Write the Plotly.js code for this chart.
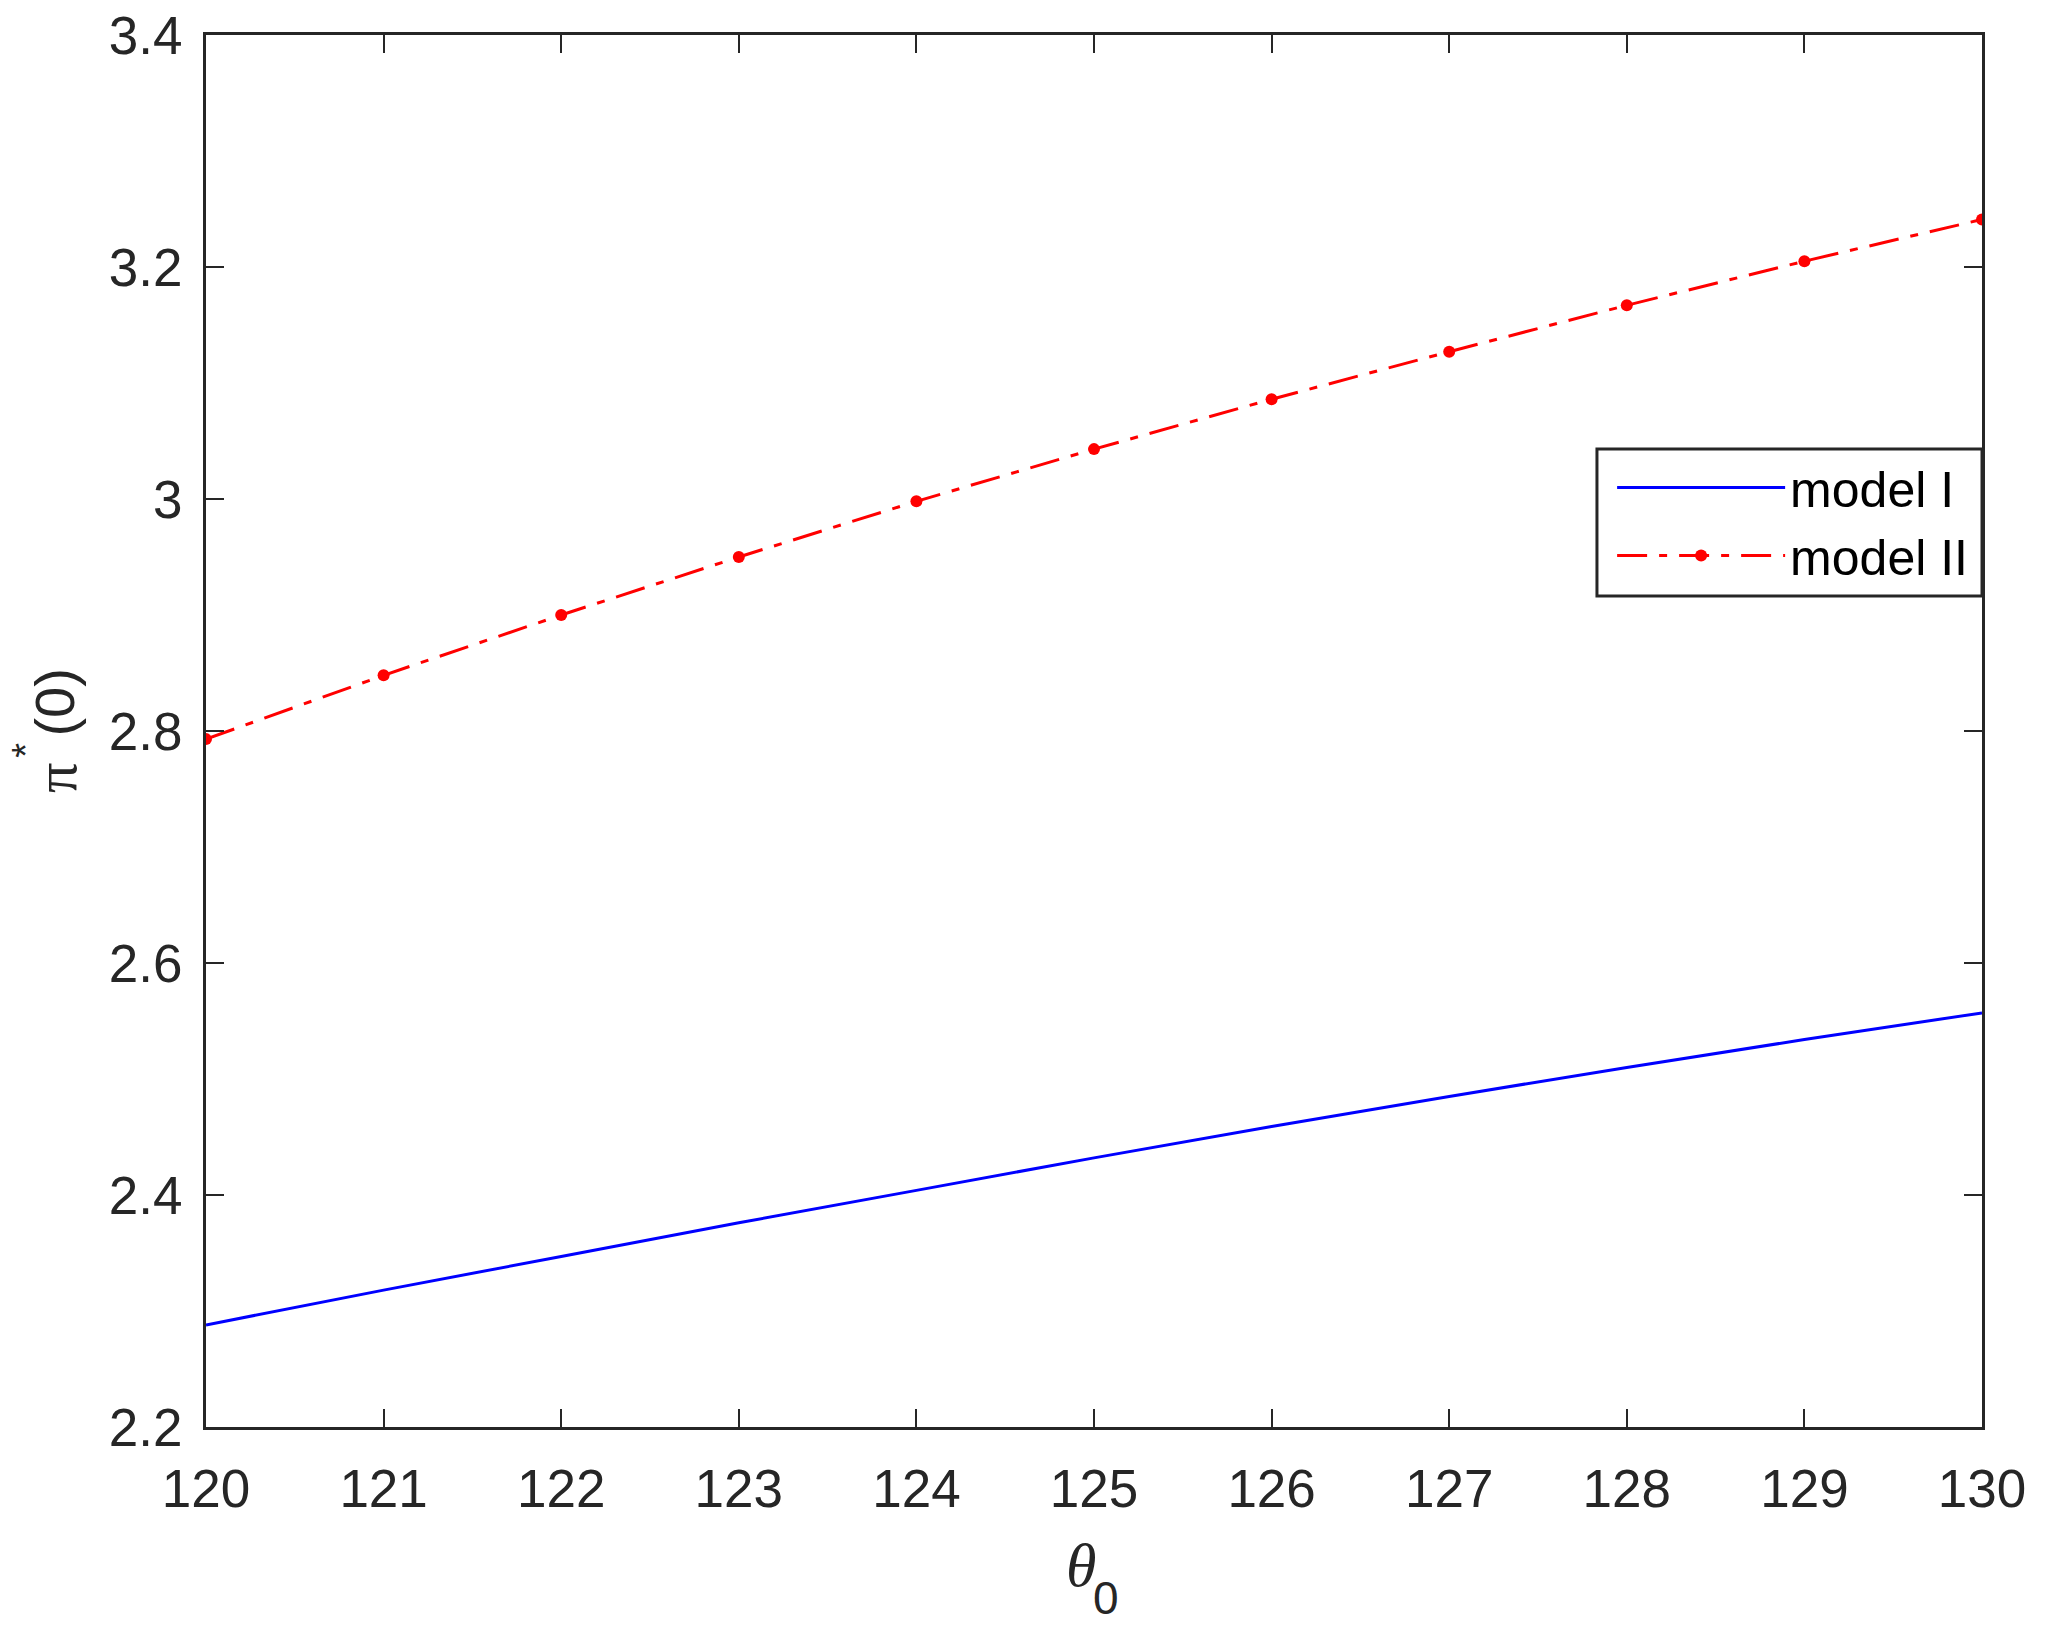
<!DOCTYPE html>
<html>
<head>
<meta charset="utf-8">
<script src="https://cdn.plot.ly/plotly-3.0.1.min.js"></script>
<style>
  html, body { margin: 0; padding: 0; background: #fff; }
  #chart { width: 2046px; height: 1634px; }
</style>
</head>
<body>
<div id="chart"></div>
<script>
// theta_0 values on the x axis
const theta0 = [120, 121, 122, 123, 124, 125, 126, 127, 128, 129, 130];
// pi*(0)
const modelI = [2.288, 2.318, 2.347, 2.376, 2.404, 2.432, 2.459, 2.485, 2.510, 2.534, 2.557];
const modelII = [2.793, 2.848, 2.900, 2.950, 2.998, 3.043, 3.086, 3.127, 3.167, 3.205, 3.241];
const seriesNames = ['model I', 'model II'];

const axisColor = '#262626';
const sans = '"Liberation Sans", Arial, sans-serif';
const serif = '"Liberation Serif", "Times New Roman", serif';
const tickFont = { family: sans, size: 53, color: axisColor };

const traces = [
    {
        x: theta0,
        y: modelI,
        mode: 'lines',
        name: seriesNames[0],
        line: { color: '#0000ff', width: 3 }
    },
    {
        x: theta0,
        y: modelII,
        mode: 'lines+markers',
        name: seriesNames[1],
        line: { color: '#ff0000', width: 3, dash: '30px,12px,8px,12px' },
        marker: { color: '#ff0000', size: 12 }
    }
];

// small helper for the label pieces (TeX-like labels built from parts)
function label(text, x, y, family, size, angle) {
    return {
        text: text, xref: 'paper', yref: 'paper',
        x: x, y: y, xanchor: 'center', yanchor: 'middle',
        showarrow: false, textangle: angle || 0,
        font: { family: family, size: size, color: axisColor }
    };
}

const layout = {
    width: 2046,
    height: 1634,
    margin: { l: 206, r: 64, t: 35, b: 207 },
    paper_bgcolor: '#ffffff',
    plot_bgcolor: '#ffffff',
    showlegend: true,
    // legend box drawn as a shape so it can have more inner padding
    shapes: [{
        type: 'rect', xref: 'paper', yref: 'paper',
        x0: 0.7832, x1: 1, y0: 0.597, y1: 0.7026,
        line: { color: axisColor, width: 3 },
        fillcolor: '#ffffff',
        layer: 'above'
    }],
    annotations: [
        // x label: theta_0
        label('<i>θ</i>', 0.4927, -0.099, serif, 62),
        label('0', 0.5068, -0.1228, sans, 46),
        // y label: pi^*(0), rotated
        label('π', -0.0845, 0.4662, serif, 60, -90),
        label('*', -0.1014, 0.4864, sans, 38, -90),
        label('(0)', -0.0853, 0.5201, sans, 56, -90)
    ],
    legend: {
        x: 0.995, xanchor: 'right',
        y: 0.703, yanchor: 'top',
        bgcolor: 'rgba(0,0,0,0)',
        borderwidth: 0,
        itemwidth: 168,
        font: { family: sans, size: 50, color: '#000000' },
        tracegroupgap: 0
    },
    xaxis: {
        range: [120, 130],
        dtick: 1,
        tick0: 120,
        ticks: 'inside',
        ticklen: 18,
        tickwidth: 2,
        tickcolor: axisColor,
        showline: true,
        linecolor: axisColor,
        linewidth: 3,
        mirror: 'ticks',
        showgrid: false,
        zeroline: false,
        tickfont: tickFont,
        ticklabelstandoff: 13
    },
    yaxis: {
        range: [2.2, 3.4],
        dtick: 0.2,
        tick0: 2.2,
        ticks: 'inside',
        ticklen: 18,
        tickwidth: 2,
        tickcolor: axisColor,
        showline: true,
        linecolor: axisColor,
        linewidth: 3,
        mirror: 'ticks',
        showgrid: false,
        zeroline: false,
        tickfont: tickFont,
        ticklabelstandoff: 10
    }
};

Plotly.newPlot('chart', traces, layout, { displayModeBar: false, staticPlot: true });
</script>
</body>
</html>
